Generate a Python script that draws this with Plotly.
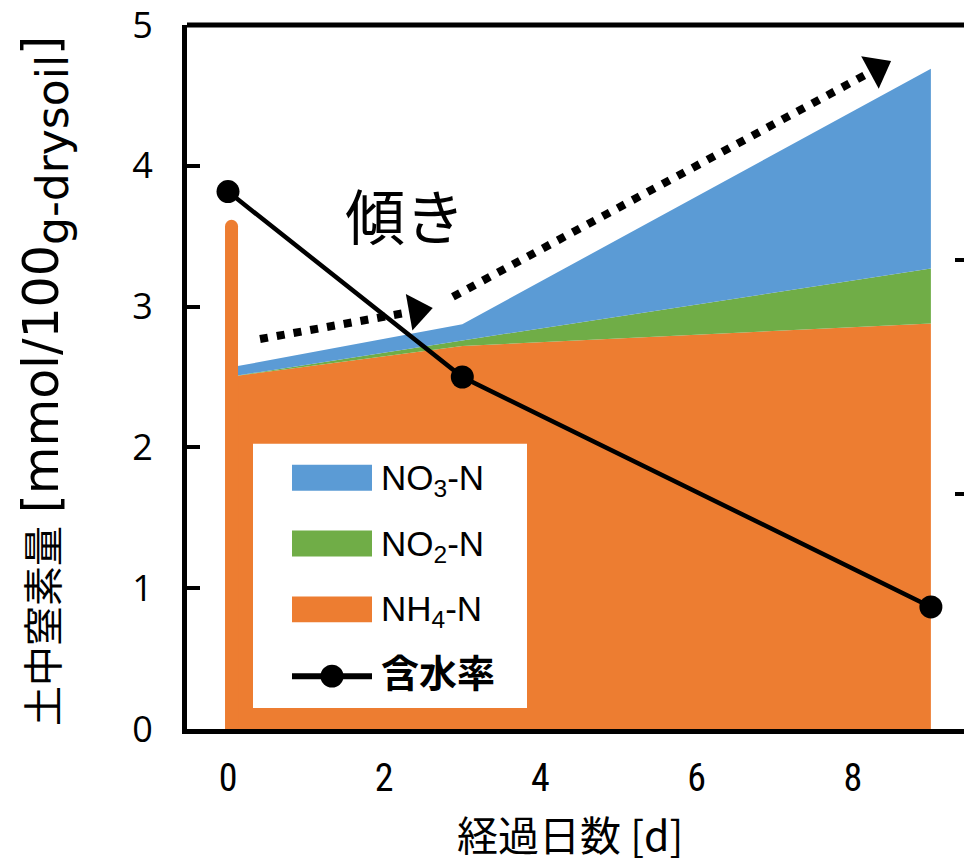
import plotly.graph_objects as go

# ---- data -------------------------------------------------------------
days = [0, 3, 9]                      # elapsed days
nh4 = [2.50, 2.72, 2.88]              # NH4-N  [mmol/100 g-drysoil]
no2 = [0.00, 0.04, 0.39]              # NO2-N
no3 = [0.065, 0.115, 1.42]            # NO3-N
moisture = [22.9, 15.0, 5.2]          # water content [%]

initial_day = [0.045, 0.045]          # NH4-N before incubation
initial_nh4 = [0.0, 3.57]

slope1_x = [0.41, 2.42]               # trend arrows ("傾き")
slope1_y = [2.77, 2.97]
slope2_x = [2.88, 8.31]
slope2_y = [3.07, 4.69]

x_ticks = [0, 2, 4, 6, 8]
y_ticks = [0, 1, 2, 3, 4, 5]
y2_ticks = [0, 10, 20, 30]

legend_labels = ["NO<sub>3</sub>-N", "NO<sub>2</sub>-N", "NH<sub>4</sub>-N", "含水率"]

# ---- style ------------------------------------------------------------
C_NO3 = "#5B9BD5"
C_NO2 = "#70AD47"
C_NH4 = "#ED7D31"
BLACK = "#000000"

W, H = 964, 866
PLOT_L, PLOT_R, PLOT_T, PLOT_B = 187, 964, 23, 729
X_RANGE = [-0.525, 9.424]

CJK = "Noto Sans CJK JP"


def px_x(p):
    return (p - PLOT_L) / (PLOT_R - PLOT_L)


def px_y(p):
    return (PLOT_B - p) / (PLOT_B - PLOT_T)


fig = go.Figure()

# stacked nitrogen areas
for name, vals, col in [("NH4-N", nh4, C_NH4), ("NO2-N", no2, C_NO2), ("NO3-N", no3, C_NO3)]:
    fig.add_trace(go.Scatter(
        x=days, y=vals, name=name, stackgroup="n", mode="lines",
        line=dict(width=0, color=col), fillcolor=col, showlegend=False,
    ))

# initial NH4-N bar
fig.add_trace(go.Scatter(
    x=initial_day, y=initial_nh4, mode="lines+markers",
    line=dict(color=C_NH4, width=13),
    marker=dict(color=C_NH4, size=[0, 13], opacity=1, line=dict(width=0)),
    showlegend=False,
))

# trend arrows
for ax_, ay_ in [(slope1_x, slope1_y), (slope2_x, slope2_y)]:
    fig.add_trace(go.Scatter(
        x=ax_, y=ay_, mode="lines+markers",
        line=dict(color=BLACK, width=8, dash="8px,9px"),
        marker=dict(symbol="triangle-up", size=[0, 32], color=BLACK, opacity=1,
                    angleref="previous", line=dict(width=0)),
        showlegend=False,
    ))

# water content
fig.add_trace(go.Scatter(
    x=days, y=moisture, yaxis="y2", mode="lines+markers", name="含水率",
    line=dict(color=BLACK, width=4.5),
    marker=dict(color=BLACK, size=23, symbol="circle", opacity=1),
    showlegend=False,
))

# ---- frame top line and custom legend box ------------------------------
shapes = [dict(type="line", xref="paper", yref="paper", layer="above",
               x0=0, x1=1, y0=1, y1=1, line=dict(color=BLACK, width=5))]
box = dict(x0=253, x1=527, y0=443, y1=708)
shapes.append(dict(type="rect", xref="paper", yref="paper", layer="above",
                   x0=px_x(box["x0"]), x1=px_x(box["x1"]),
                   y0=px_y(box["y1"]), y1=px_y(box["y0"]),
                   fillcolor="white", line=dict(width=0)))
row_y = [477, 543, 609, 676]
sw_x0, sw_x1, sw_h = 292, 372, 26
for yc, col in zip(row_y[:3], [C_NO3, C_NO2, C_NH4]):
    shapes.append(dict(type="rect", xref="paper", yref="paper", layer="above",
                       x0=px_x(sw_x0), x1=px_x(sw_x1),
                       y0=px_y(yc + sw_h / 2), y1=px_y(yc - sw_h / 2),
                       fillcolor=col, line=dict(width=0)))
shapes.append(dict(type="line", xref="paper", yref="paper", layer="above",
                   x0=px_x(sw_x0), x1=px_x(sw_x1), y0=px_y(row_y[3]), y1=px_y(row_y[3]),
                   line=dict(color=BLACK, width=6)))
mc, mr = (sw_x0 + sw_x1) / 2, 11.5
shapes.append(dict(type="circle", xref="paper", yref="paper", layer="above",
                   x0=px_x(mc - mr), x1=px_x(mc + mr),
                   y0=px_y(row_y[3] + mr), y1=px_y(row_y[3] - mr),
                   fillcolor=BLACK, line=dict(width=0)))

annotations = []
for i, (yc, lab) in enumerate(zip(row_y, legend_labels)):
    if i < 3:
        font = dict(family="Liberation Sans, Arial", size=35, color=BLACK)
        yy = yc + 2
    else:
        font = dict(family=CJK, size=38, color=BLACK, weight="bold")
        yy = yc - 6
    annotations.append(dict(xref="paper", yref="paper", x=px_x(379), y=px_y(yy),
                            text=lab, showarrow=False, xanchor="left", yanchor="middle",
                            font=font))

# "傾き" label
annotations.append(dict(x=2.27, y=3.66, xref="x", yref="y", text="傾き", showarrow=False,
                        font=dict(family=CJK, size=60, color=BLACK)))

# axis titles
annotations.append(dict(xref="paper", yref="paper", x=px_x(570), y=px_y(864),
                        text="経過日数 [d]", showarrow=False, xanchor="center", yanchor="bottom",
                        borderpad=0, font=dict(family=CJK, size=41, color=BLACK)))
annotations.append(dict(xref="paper", yref="paper", x=px_x(46), y=px_y(380),
                        text="土中窒素量 <span style='font-size:49px'>[mmol/100"
                             "<sub><span style='font-size:44px'>g-drysoil</span></sub>]</span>",
                        textangle=-90, showarrow=False, xanchor="center", yanchor="middle",
                        font=dict(family="DejaVu Sans, " + CJK, size=40, color=BLACK)))

fig.update_layout(
    width=W, height=H,
    margin=dict(l=PLOT_L, r=W - PLOT_R, t=PLOT_T, b=H - PLOT_B, pad=0),
    paper_bgcolor="white", plot_bgcolor="white",
    showlegend=False,
    shapes=shapes, annotations=annotations,
    xaxis=dict(
        range=X_RANGE, tickmode="array", tickvals=x_ticks,
        showgrid=False, zeroline=False,
        showline=True, linecolor=BLACK, linewidth=5,
        ticks="", ticklabelstandoff=11,
        tickfont=dict(family="Liberation Sans Narrow, Roboto Condensed, DejaVu Sans Condensed, Liberation Sans",
                      size=38, color=BLACK),
    ),
    yaxis=dict(
        range=[0, 5], tickmode="array", tickvals=y_ticks,
        showgrid=False, zeroline=False,
        showline=True, linecolor=BLACK, linewidth=5,
        ticks="inside", ticklen=13, tickwidth=4, tickcolor=BLACK,
        ticklabelstandoff=22, ticklabeloverflow="allow",
        tickfont=dict(family="Open Sans", size=36, color=BLACK),
    ),
    yaxis2=dict(
        range=[0, 30], overlaying="y", side="right", tickmode="array", tickvals=y2_ticks,
        showgrid=False, zeroline=False, showline=False, showticklabels=False,
        ticks="inside", ticklen=9, tickwidth=4, tickcolor=BLACK,
    ),
)

fig.write_html("out.html")
